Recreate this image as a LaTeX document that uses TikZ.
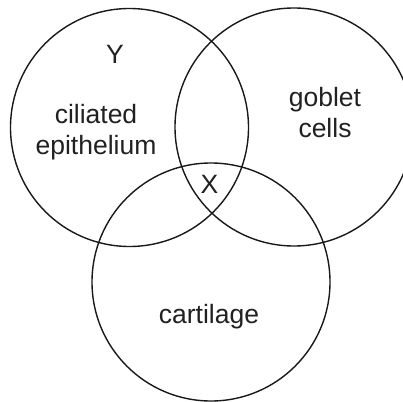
\documentclass[tikz,border=0pt]{standalone}
\usepackage{fontspec}
\setmainfont{Liberation Sans}
\begin{document}
\begin{tikzpicture}[x=1pt,y=-1pt,
  ring/.style={draw=black!90, line width=1.4pt},
  lbl/.style={anchor=base, text=black!87, inner sep=0pt, font=\fontsize{26.5}{31}\selectfont}]
\useasboundingbox (0,0) rectangle (403,401);
\clip (0,0) rectangle (403,401);
\fill[white] (0,0) rectangle (403,401);
\node[ring, circle, minimum size=238pt, inner sep=0pt] (c1) at (129.5,127.5) {};
\node[ring, circle, minimum size=238pt, inner sep=0pt] (c2) at (294,127) {};
\node[ring, circle, minimum size=238pt, inner sep=0pt] (c3) at (211,282) {};
\node[lbl] (y) at (115,64) {Y};
\node[lbl] (cil) at (96,123) {ciliated};
\node[lbl] (epi) at (96,154) {epithelium};
\node[lbl] (gob) at (325,106) {goblet};
\node[lbl] (cel) at (325,137) {cells};
\node[lbl] (x) at (209.5,193) {X};
\node[lbl] (car) at (209,323) {cartilage};
\end{tikzpicture}
\end{document}
